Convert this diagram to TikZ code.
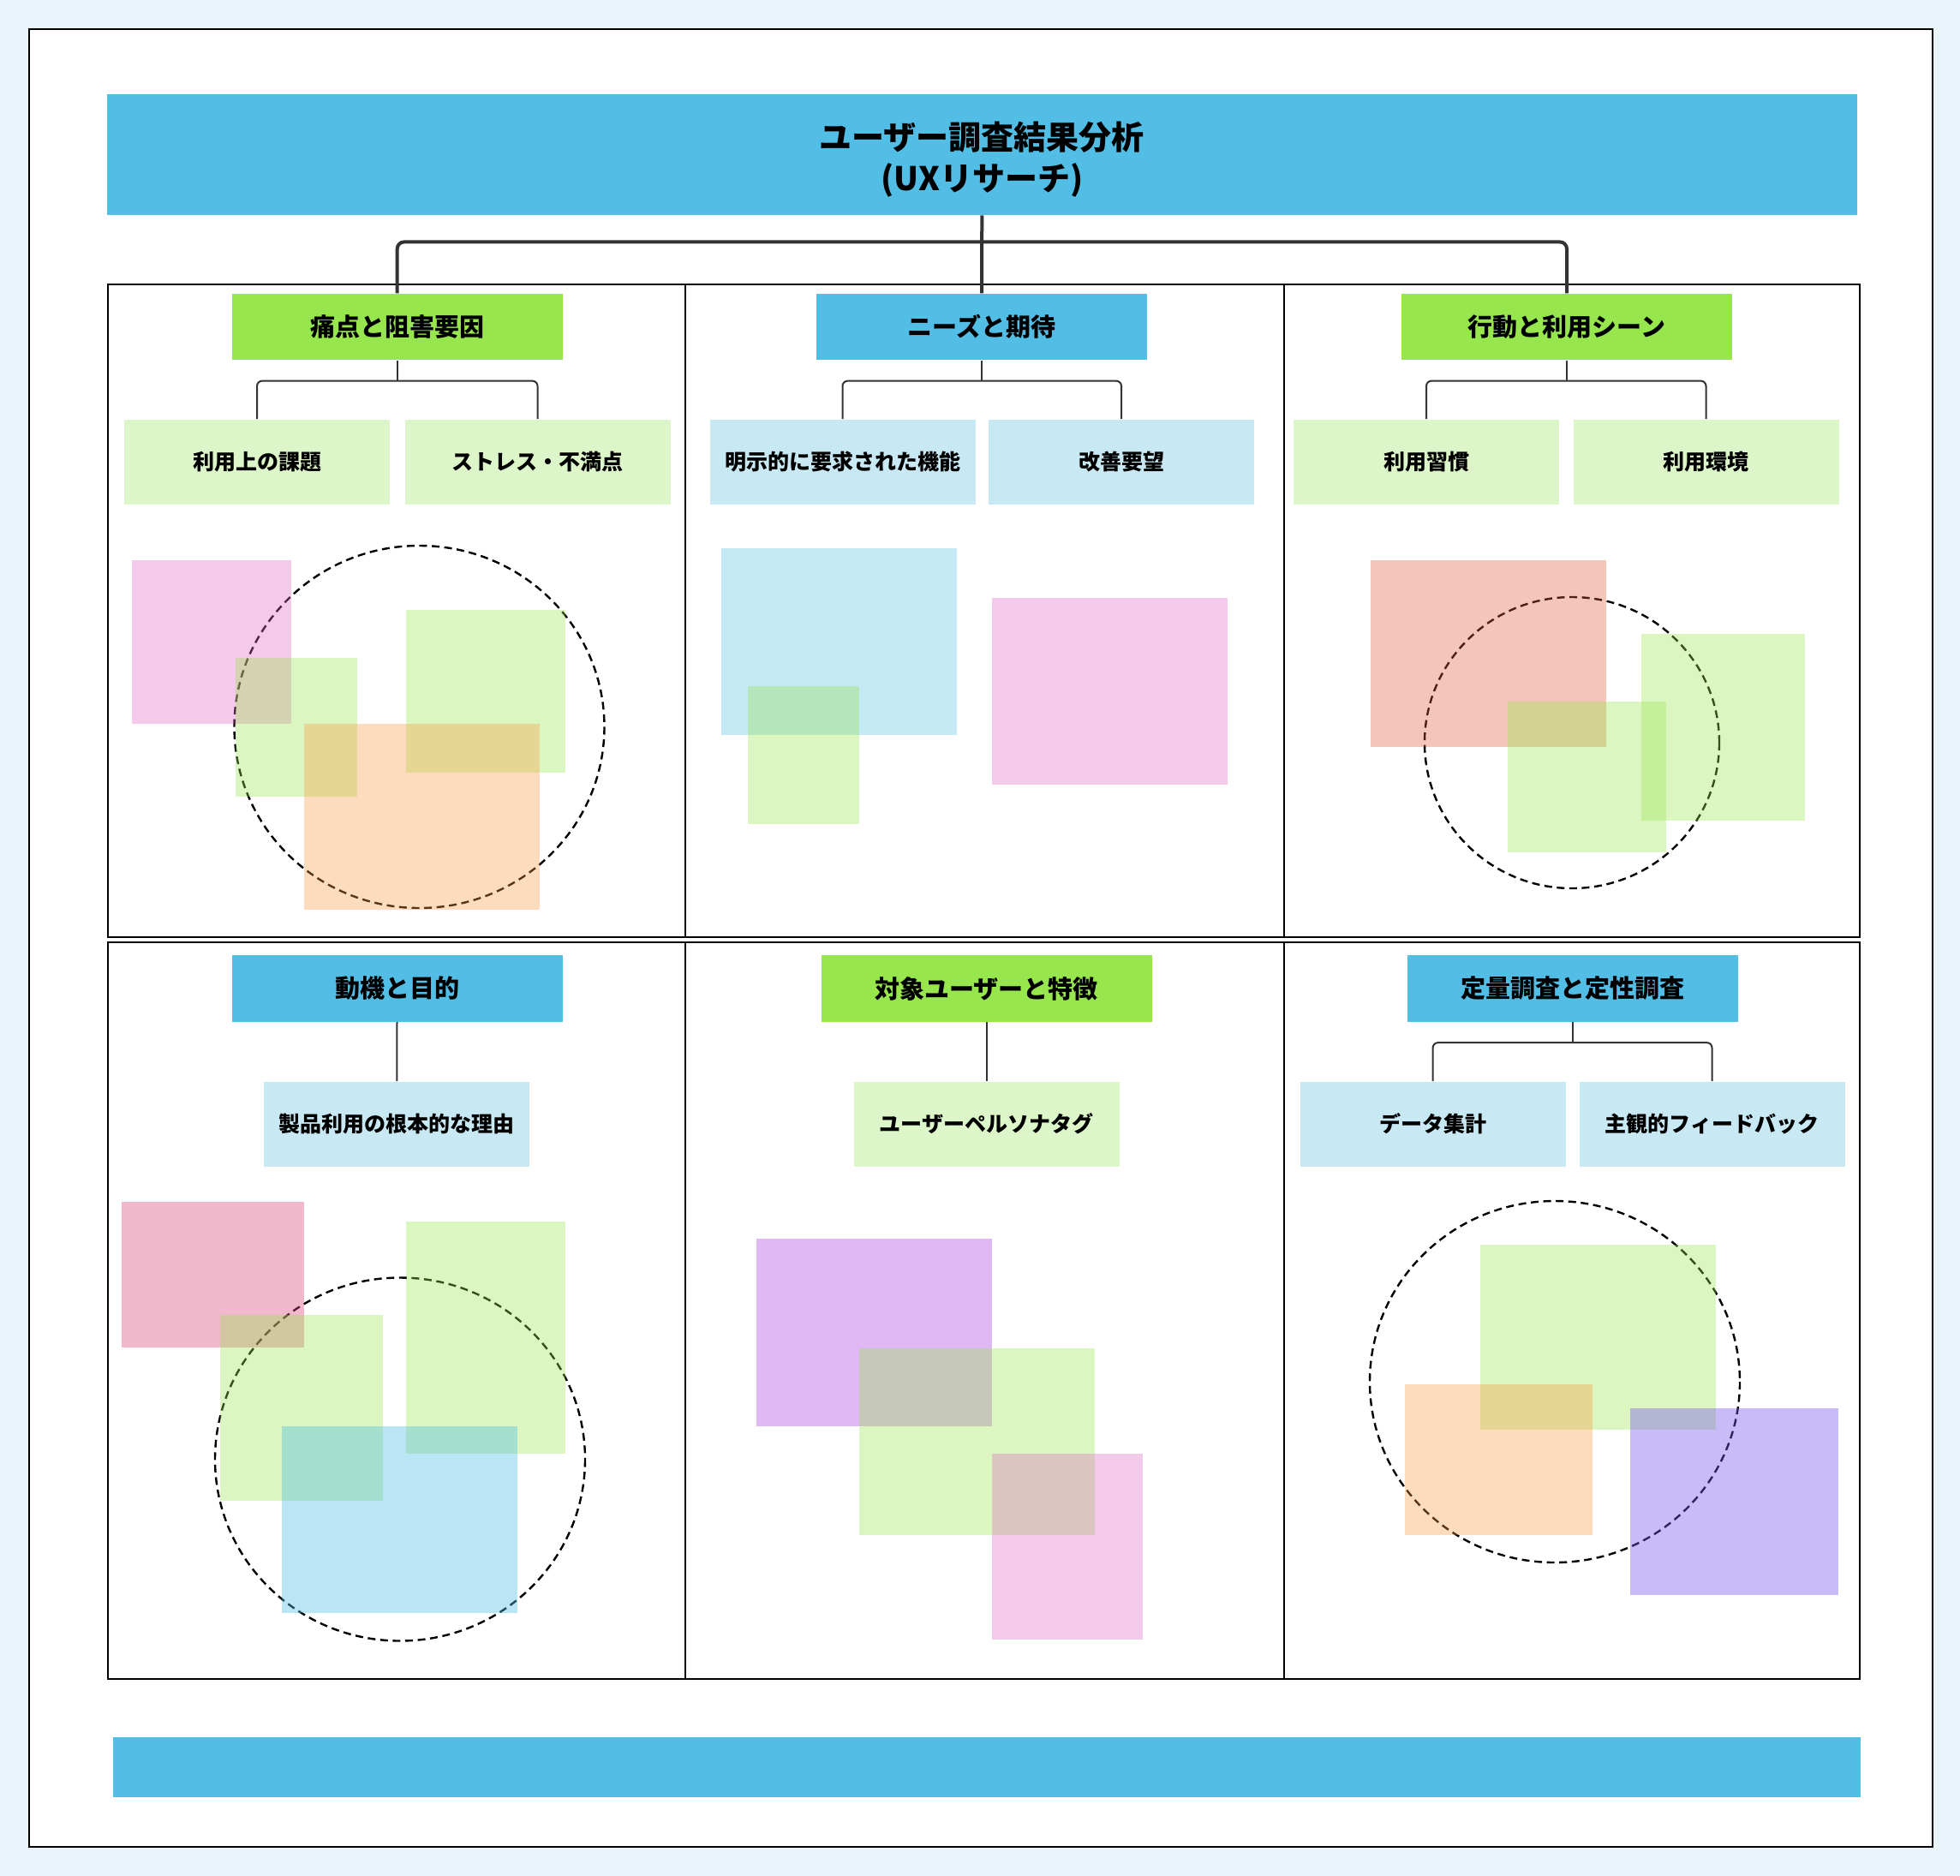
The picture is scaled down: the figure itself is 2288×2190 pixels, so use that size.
\documentclass[tikz,border=0pt]{standalone}
\usepackage{fontspec}
\setmainfont{Noto Sans CJK JP}
\usepackage{tikz}

\definecolor{bgblue}{HTML}{E8F3FA}
\definecolor{catblue}{HTML}{52BEE5}
\definecolor{catgreen}{HTML}{98E64E}
\definecolor{subblue}{HTML}{C8E8F4}
\definecolor{subgreen}{HTML}{DCF5C9}
\definecolor{linegray}{HTML}{333333}
\definecolor{shgreen}{HTML}{98E64E}
\definecolor{shpink}{HTML}{E26AC3}
\definecolor{shorange}{HTML}{F99B42}
\definecolor{shsalmon}{HTML}{E05C37}
\definecolor{shblue}{HTML}{52BEE5}
\definecolor{shrose}{HTML}{DE4E80}
\definecolor{shpurple}{HTML}{A634E0}
\definecolor{shviolet}{HTML}{7657ED}

\begin{document}
\begin{tikzpicture}[x=0.5pt, y=-0.5pt,
    cat/.style={minimum width=193pt, minimum height=38.75pt, inner sep=0pt, font=\bfseries\fontsize{14.5}{17}\selectfont},
    sub/.style={minimum width=155pt, minimum height=49.5pt, inner sep=0pt, font=\bfseries\fontsize{12.5}{15}\selectfont},
    cell/.style={draw=black, line width=1pt},
    bus/.style={draw=linegray, line width=2pt, rounded corners=4pt},
    link/.style={draw=linegray, line width=1pt, rounded corners=3pt},
    venn/.style={draw=black, line width=1.2pt, dash pattern=on 4.5pt off 2.8pt},
    patch/.style={fill opacity=.35}]
          \useasboundingbox (0,0) rectangle (2288,2190);
          \fill[bgblue] (0,0) rectangle (2288,2190);
          \draw[fill=white, line width=1pt] (33.5,33.5) rectangle (2255.5,2156);
          % cells
          \draw[cell] (125.5,332) rectangle (800,1094);
          \draw[cell] (800,332) rectangle (1499,1094);
          \draw[cell] (1499,332) rectangle (2171,1094);
          \draw[cell] (125.5,1100) rectangle (800,1960);
          \draw[cell] (800,1100) rectangle (1499,1960);
          \draw[cell] (1499,1100) rectangle (2171,1960);
          % title and footer
          \node[fill=catblue, minimum width=1021.75pt, minimum height=70.75pt, inner sep=0pt] (t) at (1146.3,180.3) {};
          \node[align=center, font=\bfseries\fontsize{19}{24}\selectfont] (tt) at ([yshift=-2.9pt]t.center) {ユーザー調査結果分析\\(UXリサーチ)};
          \fill[catblue] (131.7,2028.3) rectangle (2171.5,2098.3);
          % categories
          \node[cat, fill=catgreen] (pain) at (463.7,381.5) {痛点と阻害要因};
          \node[cat, fill=catblue] (need) at (1146,381.5) {ニーズと期待};
          \node[cat, fill=catgreen] (act) at (1829,381.5) {行動と利用シーン};
          \node[cat, fill=catblue] (mot) at (463.5,1154) {動機と目的};
          \node[cat, fill=catgreen] (usr) at (1151.5,1154) {対象ユーザーと特徴};
          \node[cat, fill=catblue] (qq) at (1836,1154) {定量調査と定性調査};
          % sub items
          \node[sub, fill=subgreen] (issue) at (300,539) {利用上の課題};
          \node[sub, fill=subgreen] (stress) at (627.5,539) {ストレス・不満点};
          \node[sub, fill=subblue] (feat) at (983.5,539) {明示的に要求された機能};
          \node[sub, fill=subblue] (req) at (1309,539) {改善要望};
          \node[sub, fill=subgreen] (habit) at (1665,539) {利用習慣};
          \node[sub, fill=subgreen] (env) at (1991.5,539) {利用環境};
          \node[sub, fill=subblue] (why) at (463.3,1312) {製品利用の根本的な理由};
          \node[sub, fill=subgreen] (tag) at (1151.5,1312) {ユーザーペルソナタグ};
          \node[sub, fill=subblue] (data) at (1672.6,1312) {データ集計};
          \node[sub, fill=subblue] (fb) at (1998.5,1312) {主観的フィードバック};
          % connectors
          \draw[bus] (t.south) -- (need.north);
          \draw[bus] (pain.north) |- ([yshift=-15.5pt]t.south) -| (act.north);
          \foreach \p/\a/\b in {pain/issue/stress, need/feat/req, act/habit/env, qq/data/fb} {
            \draw[link] (\p.south) -- ([yshift=-12pt]\p.south);
            \draw[link] (\a.north) |- ([yshift=-12pt]\p.south) -| (\b.north);
          }
          \draw[link] (mot.south) -- (why.north);
          \draw[link] (usr.south) -- (tag.north);
          % cell 1 shapes
          \draw[venn] (489.5,848.5) ellipse [x radius=216, y radius=211.5];
          \fill[shpink, patch] (154,654) rectangle (340,845);
          \fill[shgreen, patch] (274.5,768) rectangle (417,930);
          \fill[shgreen, patch] (474,712) rectangle (660,902);
          \fill[shorange, patch] (355,845) rectangle (630,1062);
          % cell 2 shapes
          \fill[shblue, fill opacity=.33] (842,640) rectangle (1117,858);
          \fill[shgreen, patch] (873,801) rectangle (1003,962);
          \fill[shpink, patch] (1158,698) rectangle (1433,916);
          % cell 3 shapes
          \draw[venn] (1835,867) ellipse [x radius=172, y radius=170];
          \fill[shsalmon, patch] (1600,654) rectangle (1875,872);
          \fill[shgreen, patch] (1760,819) rectangle (1945,995);
          \fill[shgreen, patch] (1916,740) rectangle (2106.5,958);
          % cell 4 shapes
          \draw[venn] (467,1703.5) ellipse [x radius=216, y radius=212];
          \fill[shrose, fill opacity=.4] (142,1403) rectangle (355,1573);
          \fill[shgreen, patch] (256.6,1535) rectangle (447,1752);
          \fill[shgreen, patch] (474,1426) rectangle (660,1697);
          \fill[shblue, fill opacity=.4] (329.4,1665) rectangle (604.4,1883);
          % cell 5 shapes
          \fill[shpurple, patch] (883,1446) rectangle (1157.6,1665);
          \fill[shgreen, patch] (1003,1574) rectangle (1278,1791.5);
          \fill[shpink, patch] (1158,1697) rectangle (1334,1914);
          % cell 6 shapes
          \draw[venn] (1815,1613) ellipse [x radius=216, y radius=211];
          \fill[shgreen, patch] (1728,1452.5) rectangle (2002.5,1669);
          \fill[shorange, patch] (1640,1616) rectangle (1859,1791.5);
          \fill[shviolet, fill opacity=.4] (1903,1644) rectangle (2146,1862);
        \end{tikzpicture}
\end{document}
